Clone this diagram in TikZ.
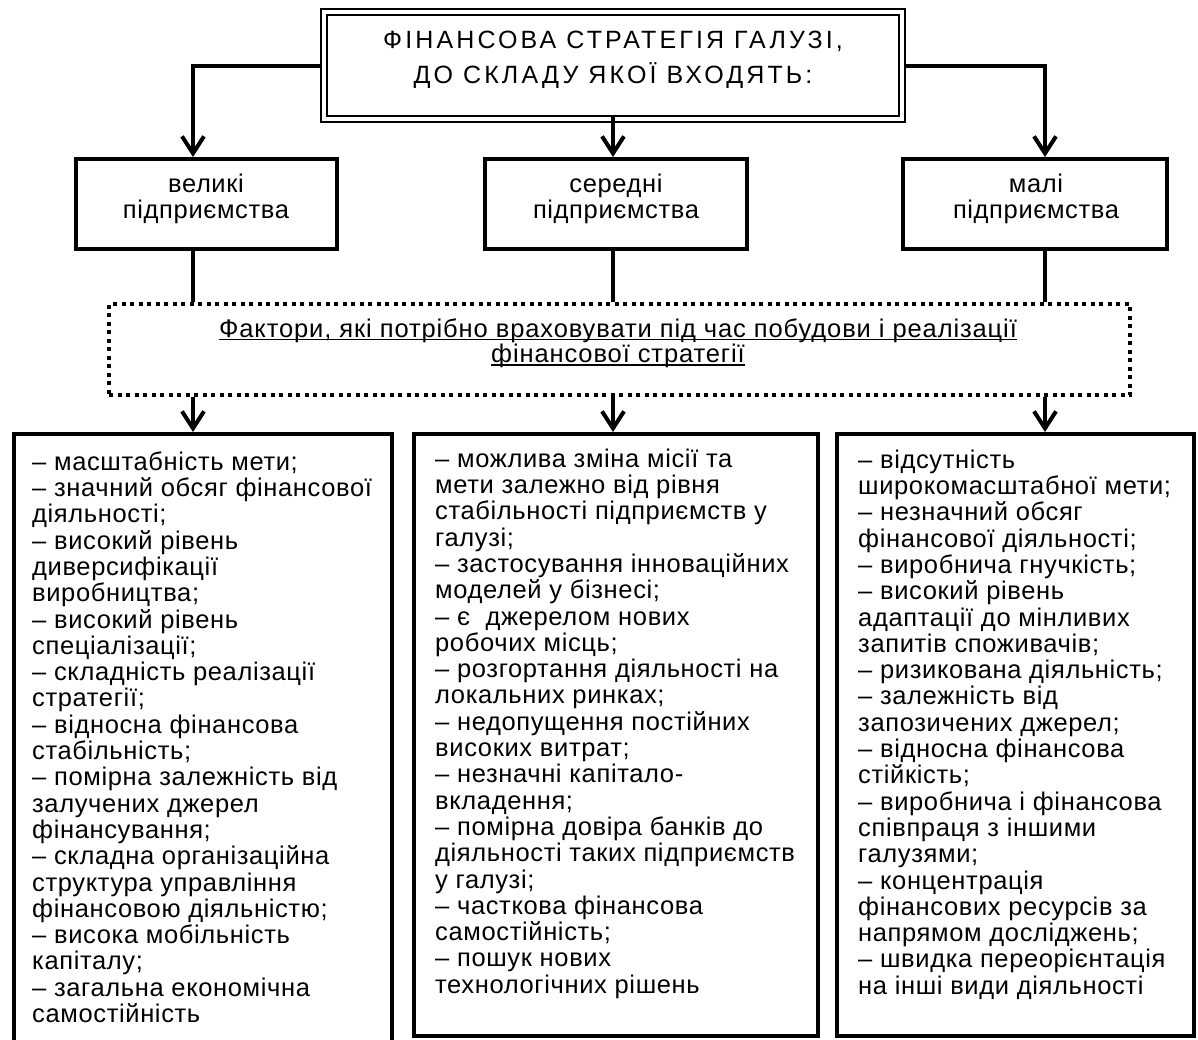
\documentclass[tikz,border=0pt]{standalone}
\usepackage{fontspec}
\setmainfont{Liberation Sans}
\newfontfamily\bodyf[LetterSpace=2.5]{Liberation Sans}
\newfontfamily\dotf[LetterSpace=3.5]{Liberation Sans}
\newfontfamily\titlef[LetterSpace=12.5]{Liberation Sans}
\usetikzlibrary{arrows.meta}
\newcommand\ulx[1]{\setbox0\hbox{#1}\rlap{\rule[-3pt]{\wd0}{1.6pt}}\box0}
\newcommand\fst{\rule{0pt}{20pt}}
\begin{document}
\begin{tikzpicture}[x=1pt,y=-1pt,
  bx/.style={draw, line width=4pt, inner sep=0pt},
  dotbox/.style={draw, line width=4pt, dash pattern=on 4pt off 4.5pt, inner sep=0pt},
  arr/.style={line width=4pt, -{Straight Barb[length=17pt,width=22pt]}},
  ln/.style={line width=4pt},
  ttl/.style={font={\titlef\fontsize{25}{35}\selectfont}, align=center, inner sep=0pt},
  mtxt/.style={font={\bodyf\fontsize{25.5}{26}\selectfont}, align=center, inner sep=0pt},
  dtxt/.style={font={\dotf\fontsize{25.5}{25.5}\selectfont}, align=center, inner sep=0pt},
  body/.style={font={\bodyf\fontsize{25.5}{26.3}\selectfont}, align=left, inner sep=0pt}]
\fill[white] (0,0) rectangle (1198,1039);
\useasboundingbox (0,0) rectangle (1198,1039);

\coordinate (xL) at (193,0);
\coordinate (xC) at (613,0);
\coordinate (xR) at (1045,0);

% top box
\node[draw, double, double distance=4pt, line width=2pt, inner sep=0pt,
      minimum width=578pt, minimum height=107pt] (top) at (613,65.5) {};
\node[ttl, anchor=north] (toptxt) at (613,28) {\fst ФІНАНСОВА СТРАТЕГІЯ ГАЛУЗІ,\\ДО СКЛАДУ ЯКОЇ ВХОДЯТЬ:};

% middle boxes
\node[bx, minimum width=261pt, minimum height=90pt] (m1) at (206.5,204) {};
\node[bx, minimum width=262pt, minimum height=90pt] (m2) at (616,204) {};
\node[bx, minimum width=264pt, minimum height=90pt] (m3) at (1035,204) {};
\node[mtxt, anchor=north] (m1t) at (206,172) {\fst великі\\підприємства};
\node[mtxt, anchor=north] (m2t) at (616,172) {\fst середні\\підприємства};
\node[mtxt, anchor=north] (m3t) at (1036,172) {\fst малі\\підприємства};

% dotted box
\node[dotbox, minimum width=1021pt, minimum height=91pt] (dot) at (619.5,349.5) {};
\node[dtxt, anchor=north] (dott) at (618,317) {\fst\ulx{Фактори, які потрібно враховувати під час побудови і реалізації}\\\ulx{фінансової стратегії}};

% bottom boxes
\node[bx, minimum width=378pt, minimum height=626pt] (b1) at (203,747) {};
\node[bx, minimum width=404pt, minimum height=602pt] (b2) at (616,735) {};
\node[bx, minimum width=357pt, minimum height=602pt] (b3) at (1015.5,735) {};

\node[body, anchor=north west] (b1t) at (32,450) {\fst – масштабність мети;\\
– значний обсяг фінансової\\
діяльності;\\
– високий рівень\\
диверсифікації\\
виробництва;\\
– високий рівень\\
спеціалізації;\\
– складність реалізації\\
стратегії;\\
– відносна фінансова\\
стабільність;\\
– помірна залежність від\\
залучених джерел\\
фінансування;\\
– складна організаційна\\
структура управління\\
фінансовою діяльністю;\\
– висока мобільність\\
капіталу;\\
– загальна економічна\\
самостійність};

\node[body, anchor=north west] (b2t) at (435,447) {\fst – можлива зміна місії та\\
мети залежно від рівня\\
стабільності підприємств у\\
галузі;\\
– застосування інноваційних\\
моделей у бізнесі;\\
– є \ джерелом нових\\
робочих місць;\\
– розгортання діяльності на\\
локальних ринках;\\
– недопущення постійних\\
високих витрат;\\
– незначні капітало-\\
вкладення;\\
– помірна довіра банків до\\
діяльності таких підприємств\\
у галузі;\\
– часткова фінансова\\
самостійність;\\
– пошук нових\\
технологічних рішень};

\node[body, anchor=north west] (b3t) at (858,448) {\fst – відсутність\\
широкомасштабної мети;\\
– незначний обсяг\\
фінансової діяльності;\\
– виробнича гнучкість;\\
– високий рівень\\
адаптації до мінливих\\
запитів споживачів;\\
– ризикована діяльність;\\
– залежність від\\
запозичених джерел;\\
– відносна фінансова\\
стійкість;\\
– виробнича і фінансова\\
співпраця з іншими\\
галузями;\\
– концентрація\\
фінансових ресурсів за\\
напрямом досліджень;\\
– швидка переорієнтація\\
на інші види діяльності};

% connectors
\draw[arr] ([xshift=-3pt]top.west) -| (m1.north -| xL);
\draw[arr] ([yshift=3pt]top.south -| xC) -- (m2.north -| xC);
\draw[arr] ([xshift=3pt]top.east) -| (m3.north -| xR);

\draw[ln] (m1.south -| xL) -- (dot.north -| xL);
\draw[ln] (m2.south -| xC) -- (dot.north -| xC);
\draw[ln] (m3.south -| xR) -- (dot.north -| xR);

\draw[arr] (dot.south -| xL) -- (b1.north -| xL);
\draw[arr] (dot.south -| xC) -- (b2.north -| xC);
\draw[arr] (dot.south -| xR) -- (b3.north -| xR);
\end{tikzpicture}
\end{document}
